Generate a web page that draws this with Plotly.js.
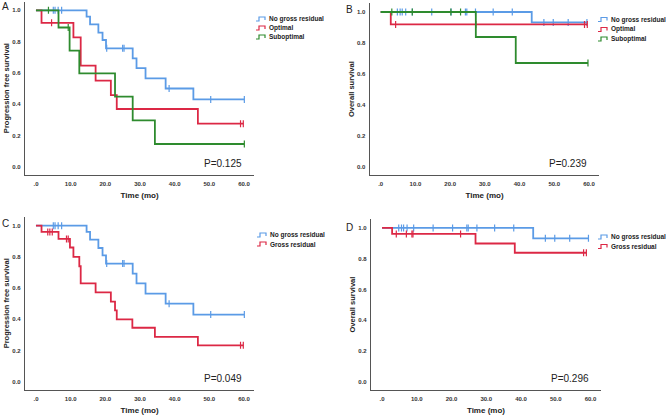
<!DOCTYPE html>
<html>
<head>
<meta charset="utf-8">
<script src="https://cdn.plot.ly/plotly-3.0.1.min.js"></script>
<style>html,body{margin:0;padding:0;background:#fff;}#chart{width:667px;height:415px;}</style>
</head>
<body>
<div id="chart"></div>
<script>
// ---------- data ----------
const xTickVals = [0, 10, 20, 30, 40, 50, 60];
const xTickText = ['.0', '10.0', '20.0', '30.0', '40.0', '50.0', '60.0'];
const yTickVals = [0, 0.2, 0.4, 0.6, 0.8, 1.0];
const yTickText = ['0.0', '0.2', '0.4', '0.6', '0.8', '1.0'];

// PFS - No gross residual (panels A and C)
const pfsNgrTime = [0, 14.6, 15.6, 18.0, 19.2, 20.2, 27.9, 29.0, 31.6, 37.4, 45.4, 60.1];
const pfsNgrSurv = [1.0, 0.96, 0.91, 0.857, 0.81, 0.757, 0.693, 0.63, 0.565, 0.50, 0.43, 0.43];
const pfsNgrCens = [5.0, 5.5, 6.4, 7.4, 20.4, 25.0, 25.4, 38.4, 50.4, 60.1];
// PFS - Optimal (panel A)
const pfsOptTime = [0, 1.6, 10.8, 12.9, 17.2, 21.6, 23.3, 46.7, 59.8];
const pfsOptSurv = [1.0, 0.92, 0.827, 0.646, 0.55, 0.458, 0.369, 0.275, 0.275];
const pfsOptCens = [4.5, 59.0, 59.8];
// PFS - Suboptimal (panel A)
const pfsSubTime = [0, 6.5, 9.7, 12.5, 22.8, 27.9, 34.3, 60.1];
const pfsSubSurv = [1.0, 0.89, 0.742, 0.597, 0.448, 0.296, 0.145, 0.145];
const pfsSubCens = [3.6, 9.3, 60.1];
// PFS - Gross residual (panel C)
const pfsGrTime = [0, 1.6, 6.5, 9.8, 10.8, 12.5, 12.9, 17.2, 21.6, 22.8, 23.3, 27.8, 34.3, 46.7, 59.8];
const pfsGrSurv = [1.0, 0.96, 0.915, 0.86, 0.80, 0.74, 0.63, 0.573, 0.513, 0.457, 0.40, 0.346, 0.288, 0.233, 0.233];
const pfsGrCens = [3.4, 4.0, 4.7, 8.8, 9.3, 59.0, 59.8];

// OS - No gross residual (panels B and D)
const osNgrTime = [0, 43.5, 59.4];
const osNgrSurv = [1.0, 0.933, 0.933];
const osNgrCens = [4.8, 5.6, 6.2, 7.2, 9.1, 14.7, 20.3, 24.4, 24.8, 27.3, 32.4, 37.9, 47.0, 49.7, 54.0, 59.4];
// OS - Optimal (panel B)
const osOptTime = [0, 2.9, 59.5];
const osOptSurv = [1.0, 0.92, 0.92];
const osOptCens = [4.3, 27.4, 58.7, 59.5];
// OS - Suboptimal (panel B)
const osSubTime = [0, 27.4, 38.9, 59.7];
const osSubSurv = [1.0, 0.839, 0.671, 0.671];
const osSubCens = [3.2, 9.1, 20.2, 23.0, 59.7];
// OS - Gross residual (panel D)
const osGrTime = [0, 2.9, 26.9, 38.2, 58.8];
const osGrSurv = [1.0, 0.961, 0.899, 0.839, 0.839];
const osGrCens = [4.1, 7.0, 8.6, 8.9, 22.6, 58.0, 58.8];

const pValues = ['P=0.125', 'P=0.239', 'P=0.049', 'P=0.296'];
const panelLetters = ['A', 'B', 'C', 'D'];
const yTitles = ['Progression free survival', 'Overall survival', 'Progression free survival', 'Overall survival'];
const xTitle = 'Time (mo)';
const legendA = ['No gross residual', 'Optimal', 'Suboptimal'];
const legendC = ['No gross residual', 'Gross residual'];

// ---------- style ----------
const BLUE = '#5b9be6', RED = '#dc2845', GREEN = '#2e8b2e';
const FONT = 'Arial, "Liberation Sans", sans-serif';
const W = 667, H = 415;

function stepAt(times, surv, t) {
  let v = surv[0];
  for (let i = 0; i < times.length; i++) { if (times[i] <= t) v = surv[i]; }
  return v;
}
function curve(times, surv, cens, color, xa, ya, name) {
  return [
    {x: times, y: surv, type: 'scatter', mode: 'lines', line: {shape: 'hv', color: color, width: 1.8},
     xaxis: xa, yaxis: ya, name: name, showlegend: false, hoverinfo: 'skip'},
    {x: cens, y: cens.map(t => stepAt(times, surv, t)), type: 'scatter', mode: 'markers',
     marker: {symbol: 'line-ns', size: 5, line: {color: color, width: 1.2}},
     xaxis: xa, yaxis: ya, name: name + ' censored', showlegend: false, hoverinfo: 'skip'}
  ];
}

const data = [].concat(
  curve(pfsNgrTime, pfsNgrSurv, pfsNgrCens, BLUE, 'x', 'y', legendA[0]),
  curve(pfsOptTime, pfsOptSurv, pfsOptCens, RED, 'x', 'y', legendA[1]),
  curve(pfsSubTime, pfsSubSurv, pfsSubCens, GREEN, 'x', 'y', legendA[2]),
  curve(osNgrTime, osNgrSurv, osNgrCens, BLUE, 'x2', 'y2', legendA[0]),
  curve(osOptTime, osOptSurv, osOptCens, RED, 'x2', 'y2', legendA[1]),
  curve(osSubTime, osSubSurv, osSubCens, GREEN, 'x2', 'y2', legendA[2]),
  curve(pfsNgrTime, pfsNgrSurv, pfsNgrCens, BLUE, 'x3', 'y3', legendC[0]),
  curve(pfsGrTime, pfsGrSurv, pfsGrCens, RED, 'x3', 'y3', legendC[1]),
  curve(osNgrTime, osNgrSurv, osNgrCens, BLUE, 'x4', 'y4', legendC[0]),
  curve(osGrTime, osGrSurv, osGrCens, RED, 'x4', 'y4', legendC[1])
);

function xAxis(domain, anchor) {
  return {domain: domain, anchor: anchor, range: [-3.2, 63], showline: true, linecolor: '#555', linewidth: 1,
    showgrid: false, zeroline: false, ticks: '', tickvals: xTickVals, ticktext: xTickText,
    tickfont: {family: FONT, size: 6, color: '#333', weight: 'bold'}, ticklabelstandoff: 3,
    title: {text: xTitle, font: {family: FONT, size: 8, color: '#222', weight: 'bold'}, standoff: 6},
    fixedrange: true};
}
function yAxis(domain, anchor, title) {
  return {domain: domain, anchor: anchor, range: [-0.05, 1.055], showline: true, linecolor: '#555', linewidth: 1,
    showgrid: false, zeroline: false, ticks: '', tickvals: yTickVals, ticktext: yTickText,
    tickfont: {family: FONT, size: 6, color: '#333', weight: 'bold'}, ticklabelstandoff: 2,
    title: {text: title, font: {family: FONT, size: 7.5, color: '#222', weight: 'bold'}, standoff: 1},
    fixedrange: true};
}

const px = p => p / W, py = p => 1 - p / H;

// legend glyphs (decoration) + legend texts
const shapes = [], annotations = [];
function legendBlock(x0, rows, labels, colors) {
  labels.forEach((lab, i) => {
    const y = rows[i];
    shapes.push({type: 'path', xref: 'paper', yref: 'paper',
      path: `M ${px(x0)},${py(y + 2)} L ${px(x0 + 3)},${py(y + 2)} L ${px(x0 + 3)},${py(y - 2)} L ${px(x0 + 9)},${py(y - 2)} L ${px(x0 + 9)},${py(y + 1)}`,
      line: {color: colors[i], width: 1.2}});
    annotations.push({xref: 'paper', yref: 'paper', x: px(x0 + 10.5), y: py(y), xanchor: 'left', yanchor: 'middle',
      text: lab, showarrow: false, font: {family: FONT, size: 6.5, color: '#222', weight: 'bold'}});
  });
}
legendBlock(256, [19, 28, 37], legendA, [BLUE, RED, GREEN]);
legendBlock(598, [19.5, 29.5, 39], legendA, [BLUE, RED, GREEN]);
legendBlock(257, [235, 244], legendC, [BLUE, RED]);
legendBlock(598, [237, 246.5], legendC, [BLUE, RED]);

// p-values
['', '2', '3', '4'].forEach((s, i) => {
  annotations.push({xref: 'x' + s, yref: 'y' + s, x: 60, y: 0.02, xanchor: 'right', yanchor: 'middle',
    text: pValues[i], showarrow: false, font: {family: FONT, size: 10, color: '#222'}});
});
// panel letters
const letterPos = [[6, 7], [349, 9], [6, 223], [349, 227]];
panelLetters.forEach((L, i) => {
  annotations.push({xref: 'paper', yref: 'paper', x: px(letterPos[i][0]), y: py(letterPos[i][1]),
    xanchor: 'center', yanchor: 'middle', text: L, showarrow: false,
    font: {family: FONT, size: 10, color: '#222'}});
});

const layout = {
  width: W, height: H, margin: {l: 0, r: 0, t: 0, b: 0}, paper_bgcolor: '#fff', plot_bgcolor: '#fff',
  showlegend: false,
  xaxis: xAxis([0.0373, 0.3814], 'y'), yaxis: yAxis([0.5795, 0.9959], 'x', yTitles[0]),
  xaxis2: xAxis([0.5541, 0.8987], 'y2'), yaxis2: yAxis([0.5788, 0.9916], 'x2', yTitles[1]),
  xaxis3: xAxis([0.0373, 0.3814], 'y3'), yaxis3: yAxis([0.0614, 0.4769], 'x3', yTitles[2]),
  xaxis4: xAxis([0.5561, 0.9010], 'y4'), yaxis4: yAxis([0.0610, 0.4711], 'x4', yTitles[3]),
  shapes: shapes, annotations: annotations
};

Plotly.newPlot('chart', data, layout, {displayModeBar: false, staticPlot: true});
</script>
</body>
</html>
